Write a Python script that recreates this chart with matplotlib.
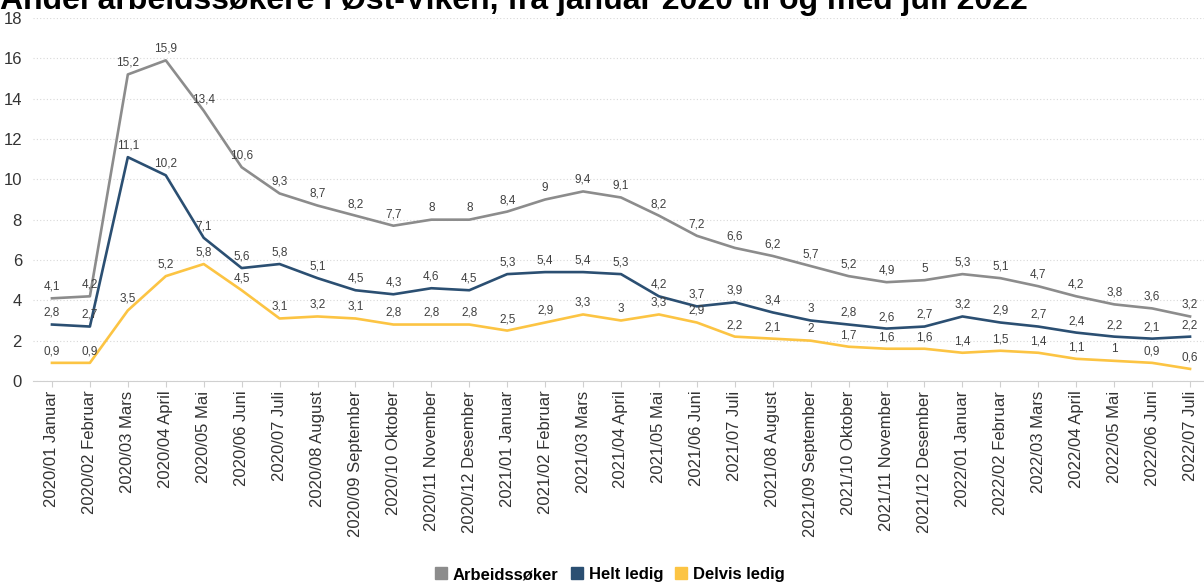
import matplotlib
matplotlib.use("Agg")
import matplotlib.pyplot as plt
from matplotlib.lines import Line2D

categories = ["2020/01 Januar", "2020/02 Februar", "2020/03 Mars", "2020/04 April", "2020/05 Mai",
              "2020/06 Juni", "2020/07 Juli", "2020/08 August", "2020/09 September", "2020/10 Oktober",
              "2020/11 November", "2020/12 Desember", "2021/01 Januar", "2021/02 Februar", "2021/03 Mars",
              "2021/04 April", "2021/05 Mai", "2021/06 Juni", "2021/07 Juli", "2021/08 August",
              "2021/09 September", "2021/10 Oktober", "2021/11 November", "2021/12 Desember",
              "2022/01 Januar", "2022/02 Februar", "2022/03 Mars", "2022/04 April", "2022/05 Mai",
              "2022/06 Juni", "2022/07 Juli"]
arbeidssoker = [4.1, 4.2, 15.2, 15.9, 13.4, 10.6, 9.3, 8.7, 8.2, 7.7, 8, 8, 8.4, 9, 9.4, 9.1,
                8.2, 7.2, 6.6, 6.2, 5.7, 5.2, 4.9, 5, 5.3, 5.1, 4.7, 4.2, 3.8, 3.6, 3.2]
helt_ledig = [2.8, 2.7, 11.1, 10.2, 7.1, 5.6, 5.8, 5.1, 4.5, 4.3, 4.6, 4.5, 5.3, 5.4, 5.4, 5.3,
              4.2, 3.7, 3.9, 3.4, 3, 2.8, 2.6, 2.7, 3.2, 2.9, 2.7, 2.4, 2.2, 2.1, 2.2]
delvis_ledig = [0.9, 0.9, 3.5, 5.2, 5.8, 4.5, 3.1, 3.2, 3.1, 2.8, 2.8, 2.8, 2.5, 2.9, 3.3, 3,
                3.3, 2.9, 2.2, 2.1, 2, 1.7, 1.6, 1.6, 1.4, 1.5, 1.4, 1.1, 1, 0.9, 0.6]
series_names = ["Arbeidssøker", "Helt ledig", "Delvis ledig"]
colors = ["#8c8c8c", "#2b4f72", "#fcc443"]
title = "Andel arbeidssøkere i Øst-Viken, fra januar 2020 til og med juli 2022"

plt.rcParams['font.family'] = ['Liberation Sans', 'DejaVu Sans']

W, H = 1204, 582
fig = plt.figure(figsize=(W / 100, H / 100), dpi=100)
left_px, right_px, top_px, bottom_px = 33, 1209, 18, 381
ax = fig.add_axes([left_px / W, 1 - bottom_px / H, (right_px - left_px) / W, (bottom_px - top_px) / H])

x = list(range(len(categories)))
for vals, c in zip([arbeidssoker, helt_ledig, delvis_ledig], colors):
    ax.plot(x, vals, color=c, lw=1.9, solid_joinstyle='round', zorder=3)
    for xi, v in zip(x, vals):
        lab = f"{v:g}".replace(".", ",")
        ax.annotate(lab, (xi, v), xytext=(0, 4), textcoords='offset points',
                    ha='center', va='bottom', fontsize=8.5, color='#404040', zorder=4)

ax.set_xlim(-0.5, len(categories) - 0.5)
ax.set_ylim(0, 18)
ax.set_yticks(range(0, 19, 2))
ax.set_xticks(x)
ax.set_xticklabels(categories, rotation=90, fontsize=12, color='#333333')
ax.tick_params(axis='y', length=0, labelsize=12, labelcolor='#333333', pad=8)
ax.tick_params(axis='x', length=4, color='#d0d0d0', pad=3)
ax.grid(axis='y', color='#d8d8d8', linestyle=(0, (1, 2)), lw=0.8)
ax.set_axisbelow(True)
for s in ['top', 'right', 'left']:
    ax.spines[s].set_visible(False)
ax.spines['bottom'].set_color('#d0d0d0')

fig.text(0.0, 1 - 9 / H, title, fontsize=23, fontweight='bold', ha='left', va='baseline', color='black')

handles = [Line2D([], [], marker='s', linestyle='none', markersize=8, color=c) for c in colors]
fig.legend(handles, series_names, loc='lower center', bbox_to_anchor=(0.505, -0.026), ncol=3,
           frameon=False, prop={'weight': 'bold', 'size': 12}, handletextpad=0.1, columnspacing=0.5,
           handlelength=1.2)

fig.savefig("out.png", dpi=100)
